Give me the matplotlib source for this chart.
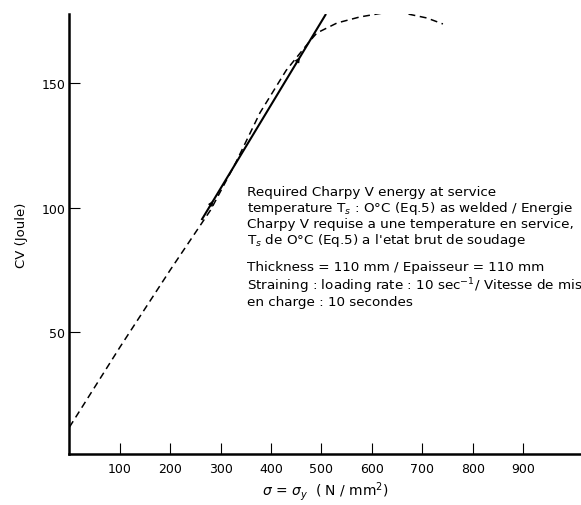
import numpy as np
import matplotlib
matplotlib.use("Agg")
import matplotlib.pyplot as plt
from matplotlib import rcParams
rcParams['font.family'] = ['DejaVu Sans']
rcParams['mathtext.fontset'] = 'dejavusans'

# 破線の曲線 (σ, CV)
curve_x = [0, 100, 200, 280, 330, 378, 430, 478, 491, 531, 576, 622, 662, 709, 741]
curve_y = [12, 44, 75, 99, 118, 138, 155, 167, 170, 174, 176.4, 178, 178, 176, 173.6]
# 実線の直線 (σ, CV)
line_x = [262, 509]
line_y = [95, 177.6]
# 矢印の位置
arrow_x = [285, 457]

# 軸の目盛
xticks_list = [100, 200, 300, 400, 500, 600, 700, 800, 900]
yticks_list = [50, 100, 150]

# 注記 (1行ずつ)
note_lines = ["Required Charpy V energy at service",
              "temperature T$_s$ : O°C (Eq.5) as welded / Energie",
              "Charpy V requise a une temperature en service,",
              "T$_s$ de O°C (Eq.5) a l'etat brut de soudage",
              "Thickness = 110 mm / Epaisseur = 110 mm",
              "Straining : loading rate : 10 sec$^{-1}$/ Vitesse de mise",
              "en charge : 10 secondes"]
note_y = [105, 98.6, 92.2, 85.8, 75, 67.2, 61]

fig = plt.figure(figsize=(5.81, 5.06), dpi=100)
ax = fig.add_axes([0.1196, 0.1008, 0.8804, 0.8696])

ax.plot(curve_x, curve_y, color="black", lw=1.1, dashes=(4.5, 3))
ax.plot(line_x, line_y, color="black", lw=1.5, solid_capstyle="butt")

# 実線上の小さな矢印
slope = (line_y[1] - line_y[0]) / (line_x[1] - line_x[0])
for a_x in arrow_x:
    y_end = line_y[0] + slope * (a_x - line_x[0])
    ax.annotate("", xy=(a_x, y_end), xytext=(a_x - 8, y_end - 8 * slope),
                arrowprops=dict(arrowstyle="-|>", color="black", lw=0.8,
                                mutation_scale=7, shrinkA=0, shrinkB=0))

ax.set_xlim(0, 1015)
ax.set_ylim(1.2, 177.6)

# 軸の設定
for side in ["top", "right"]:
    ax.spines[side].set_visible(False)
for side in ["left", "bottom"]:
    ax.spines[side].set_linewidth(1.8)
ax.set_xticks(xticks_list)
ax.set_xticklabels([str(v) for v in xticks_list], fontsize=9)
ax.set_yticks(yticks_list)
ax.set_yticklabels([str(v) for v in yticks_list], fontsize=9)
ax.tick_params(axis="x", direction="in", length=8, width=0.8, pad=6)
ax.tick_params(axis="y", direction="in", length=8, width=0.8, pad=3)

ax.set_xlabel(r"$\sigma$ = $\sigma_y$  ( N / mm$^2$)", fontsize=10, labelpad=3)
ax.set_ylabel("CV (Joule)", fontsize=9.5, labelpad=10)

# 注記を描く
for txt, ty in zip(note_lines, note_y):
    ax.text(352, ty, txt, fontsize=9.7, va="baseline", ha="left", clip_on=False)

plt.savefig("out.png", dpi=100)
plt.close(fig)
